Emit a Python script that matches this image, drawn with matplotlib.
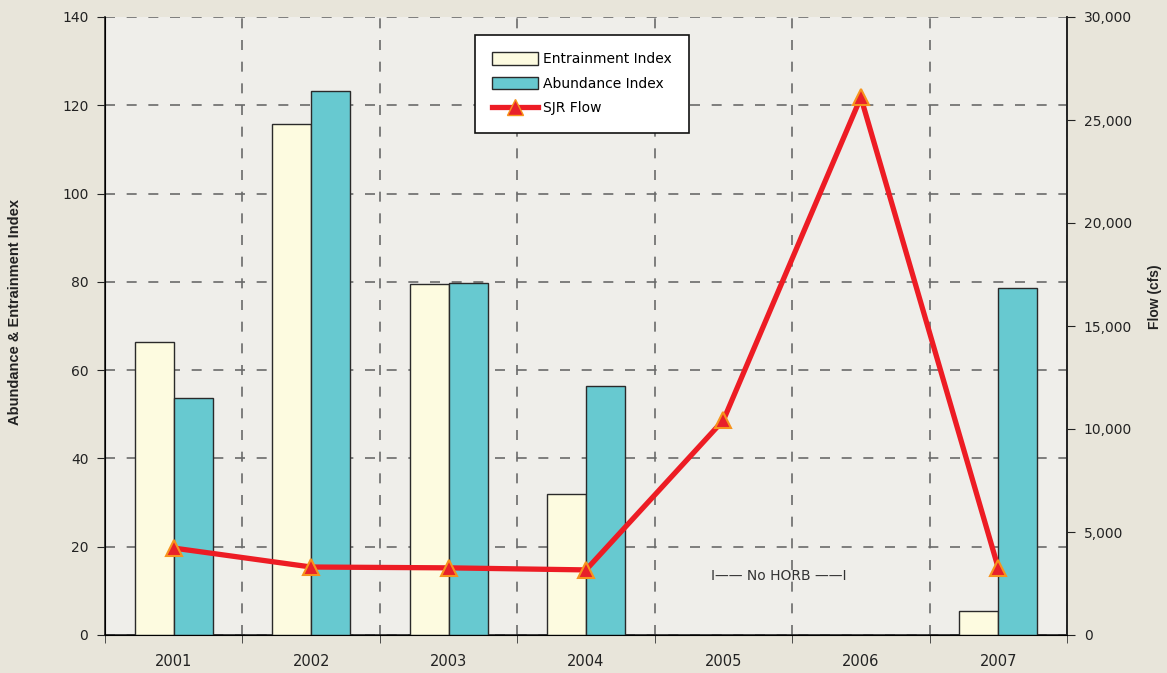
import matplotlib
matplotlib.use("Agg")
import matplotlib.pyplot as plt
import numpy as np
from matplotlib.lines import Line2D
from matplotlib.patches import Patch

years = ["2001", "2002", "2003", "2004", "2005", "2006", "2007"]
entrainment = [66.3, 115.7, 79.5, 31.9, np.nan, np.nan, 5.4]
abundance = [53.8, 123.3, 79.8, 56.5, np.nan, np.nan, 78.6]
sjr_flow = [4220, 3300, 3260, 3160, 10430, 26100, 3250]

narrow = ["Liberation Sans Narrow", "Liberation Sans", "DejaVu Sans"]

fig = plt.figure(figsize=(11.67, 6.73), dpi=100)
fig.patch.set_facecolor("#E8E5DA")
ax = fig.add_axes([105/1167, 38/673, (1067-105)/1167, (635-17)/673])
ax.set_facecolor("#EFEEEA")

x = np.arange(len(years))
w = 0.284
ax.bar(x - w, entrainment, width=w, align="edge", color="#FDFBE0",
       edgecolor="#2a2a2a", linewidth=1.0, zorder=3)
ax.bar(x, abundance, width=w, align="edge", color="#67C9D0",
       edgecolor="#2a2a2a", linewidth=1.0, zorder=3)

ax.set_xlim(-0.5, len(years) - 0.5)
ax.set_ylim(0, 140)
ax.set_yticks(np.arange(0, 141, 20))
ax.set_xticks(x)
ax.set_xticklabels(years)
ax.set_xticks(np.arange(-0.5, len(years), 1), minor=True)
ax.tick_params(axis="x", which="major", length=0, pad=14, labelsize=10.5, colors="#222222")
ax.tick_params(axis="x", which="minor", length=6, direction="out", color="#333333")
ax.tick_params(axis="y", length=6, direction="out", labelsize=10, colors="#222222", pad=6)
dash = (0, (6, 7))
ax.grid(True, axis="y", which="major", linestyle=dash, color="#6a6a6a", linewidth=1.2, zorder=1)
ax.grid(True, axis="x", which="minor", linestyle=dash, color="#6a6a6a", linewidth=1.2, zorder=1)
ax.spines["top"].set_visible(False)
for s in ["left", "bottom", "right"]:
    ax.spines[s].set_color("#222222")
    ax.spines[s].set_linewidth(1.2)

ax2 = ax.twinx()
ax2.set_ylim(0, 30000)
ax2.set_yticks(np.arange(0, 30001, 5000))
ax2.set_yticklabels([f"{v:,}" for v in range(0, 30001, 5000)])
ax2.tick_params(axis="y", length=6, direction="out", labelsize=10, colors="#222222", pad=6)
ax2.spines["top"].set_visible(False)
ax2.spines["right"].set_color("#222222")
ax2.spines["right"].set_linewidth(1.2)
ax2.plot(x, sjr_flow, color="#ED1C24", linewidth=3.8, marker="^", markersize=11.5,
         markerfacecolor="#E8202A", markeredgecolor="#F7941D", markeredgewidth=1.5, zorder=5)

fig.text(15/1167, 1 - 312/673, "Abundance & Entrainment Index", rotation=90, ha="center", va="center",
         fontsize=10.5, fontweight="bold", family=narrow, color="#222222")
fig.text(1155/1167, 1 - 297/673, "Flow (cfs)", rotation=90, ha="center", va="center",
         fontsize=10, fontweight="bold", family=narrow, color="#222222")

ax.text(4.4, 13.4, "I—— No HORB ——I", ha="center", va="center", fontsize=10, color="#333333", zorder=4)

handles = [
    Patch(facecolor="#FDFBE0", edgecolor="#2a2a2a", label="Entrainment Index"),
    Patch(facecolor="#67C9D0", edgecolor="#2a2a2a", label="Abundance Index"),
    Line2D([0], [0], color="#ED1C24", linewidth=3.8, marker="^", markersize=11,
           markerfacecolor="#E8202A", markeredgecolor="#F7941D", label="SJR Flow"),
]
leg = ax2.legend(handles=handles, loc="upper left", bbox_to_anchor=((475-105)/962, (635-35)/618),
                 frameon=True, fancybox=False, edgecolor="#111111", fontsize=10,
                 handlelength=3.3, handleheight=1.0, borderpad=1.25, labelspacing=0.75,
                 handletextpad=0.35, borderaxespad=0)
leg.get_frame().set_linewidth(1.2)
leg.get_frame().set_facecolor("white")
leg.get_frame().set_alpha(1)

fig.savefig("out.png", dpi=100, facecolor=fig.get_facecolor())
